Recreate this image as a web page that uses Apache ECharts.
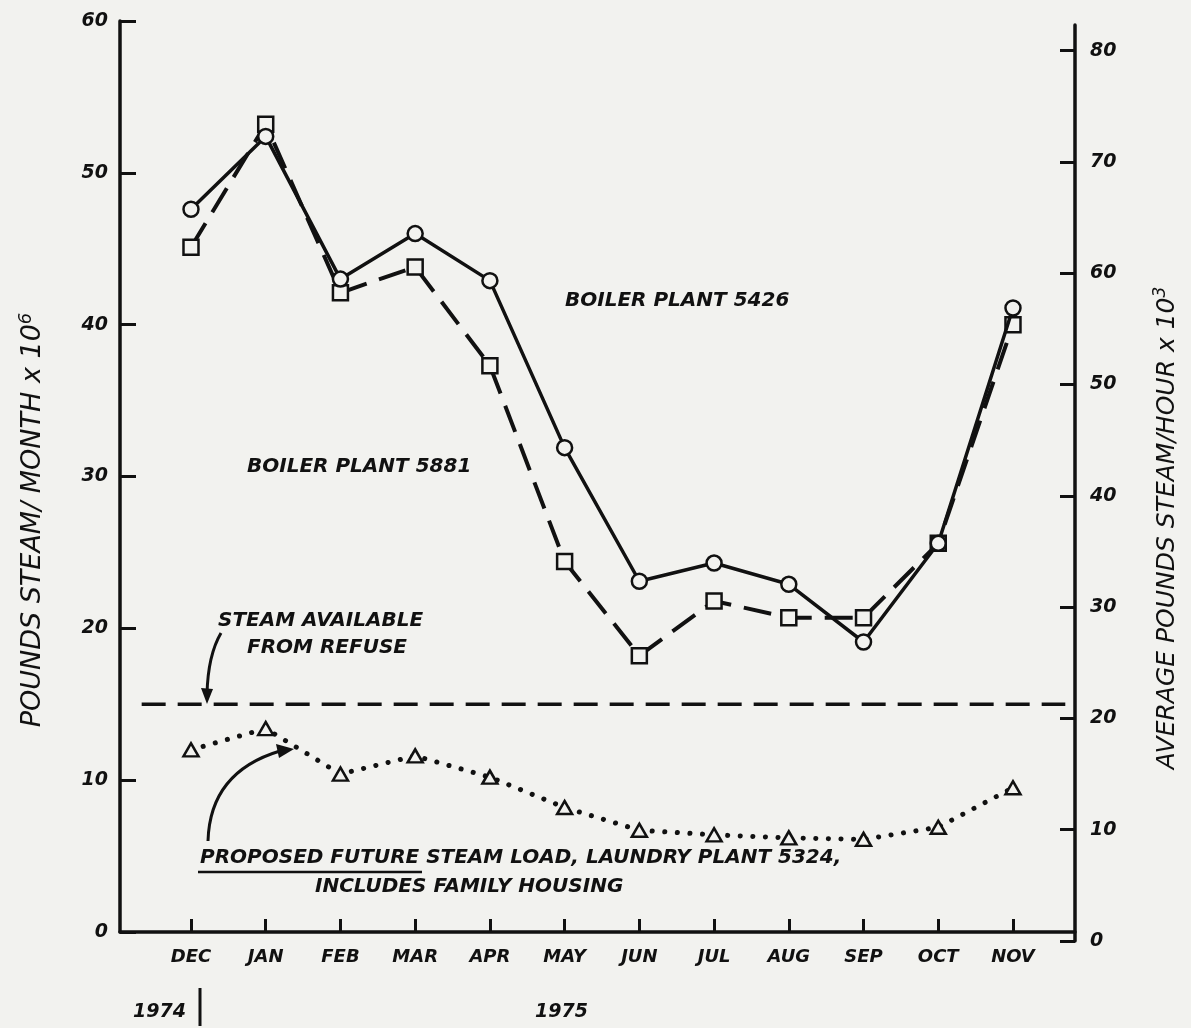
<!DOCTYPE html>
<html>
<head>
<meta charset="utf-8">
<script src="https://cdn.jsdelivr.net/npm/echarts@6/dist/echarts.min.js"></script>
<style>
html,body{margin:0;padding:0;background:#f2f2ef;}
#chart{width:1191px;height:1028px;}
</style>
</head>
<body>
<div id="chart"></div>
<script>
// ---- data ----
var months = ['DEC','JAN','FEB','MAR','APR','MAY','JUN','JUL','AUG','SEP','OCT','NOV'];
var plant5881 = [47.6, 52.4, 43.0, 46.0, 42.9, 31.9, 23.1, 24.3, 22.9, 19.1, 25.6, 41.1];
var plant5426 = [45.1, 53.2, 42.1, 43.8, 37.3, 24.4, 18.2, 21.8, 20.7, 20.7, 25.6, 40.0];
var laundry5324 = [12.0, 13.4, 10.4, 11.6, 10.2, 8.2, 6.7, 6.4, 6.2, 6.1, 6.9, 9.5];
var refuseLevel = 15.0;
var refuseSpan = [-0.66, 11.7];
var leftTicks = [0, 10, 20, 30, 40, 50, 60];
var rightTicks = [0, 10, 20, 30, 40, 50, 60, 70, 80];

var BG = '#f2f2ef';
var INK = '#111';
var FONT = '"DejaVu Sans", sans-serif';

function pairs(arr){ return arr.map(function(v,i){ return [i, v]; }); }

var chart = echarts.init(document.getElementById('chart'));

var lblStyle = {color: INK, fontFamily: FONT, fontWeight: 'bold', fontStyle: 'italic'};
var monthIdx = months.map(function(m,i){return i;});

var option = {
  backgroundColor: BG,
  animation: false,
  grid: [
    {left: 120, right: 116, top: 21, bottom: 96},
    {left: 120, right: 116, top: 25, bottom: 87}
  ],
  xAxis: [{
    gridIndex: 0, type: 'value', min: -0.95, max: 11.83,
    axisLine: {show: true, onZero: false, lineStyle: {color: INK, width: 3.5}},
    axisTick: {show: true, inside: true, length: 13, lineStyle: {color: INK, width: 3}, customValues: monthIdx},
    axisLabel: Object.assign({show: true, fontSize: 18, margin: 16, customValues: monthIdx,
      formatter: function(v){ return months[Math.round(v)] || ''; }}, lblStyle),
    splitLine: {show: false}
  }, {
    gridIndex: 1, type: 'value', min: -0.95, max: 11.83, show: false
  }],
  yAxis: [{
    gridIndex: 0, type: 'value', min: 0, max: 60, position: 'left',
    axisLine: {show: true, onZero: false, lineStyle: {color: INK, width: 3.5}},
    axisTick: {show: true, inside: true, length: 16, lineStyle: {color: INK, width: 3}, customValues: leftTicks},
    axisLabel: Object.assign({fontSize: 19, margin: 12, customValues: leftTicks}, lblStyle),
    splitLine: {show: false}
  }, {
    gridIndex: 1, type: 'value', min: 0, max: 82.3, position: 'right',
    axisLine: {show: true, onZero: false, lineStyle: {color: INK, width: 3.5}},
    axisTick: {show: true, inside: true, length: 15, lineStyle: {color: INK, width: 3}, customValues: rightTicks},
    axisLabel: Object.assign({fontSize: 19, margin: 15, customValues: rightTicks}, lblStyle),
    splitLine: {show: false}
  }],
  series: [
    {
      name: 'Steam available from refuse', type: 'line', xAxisIndex: 0, yAxisIndex: 0,
      data: [[refuseSpan[0], refuseLevel], [refuseSpan[1], refuseLevel]],
      symbol: 'none', lineStyle: {color: INK, width: 3.5, type: [24, 12]}, z: 2
    },
    {
      name: 'Boiler Plant 5426', type: 'line', xAxisIndex: 0, yAxisIndex: 0,
      data: pairs(plant5426), symbol: 'rect', symbolSize: 15,
      itemStyle: {color: BG, borderColor: INK, borderWidth: 2.5},
      lineStyle: {color: INK, width: 4, type: [28, 13]}, z: 3
    },
    {
      name: 'Boiler Plant 5881', type: 'line', xAxisIndex: 0, yAxisIndex: 0,
      data: pairs(plant5881), symbol: 'circle', symbolSize: 15,
      itemStyle: {color: BG, borderColor: INK, borderWidth: 2.5},
      lineStyle: {color: INK, width: 3.5}, z: 4
    },
    {
      name: 'Laundry Plant 5324', type: 'line', xAxisIndex: 0, yAxisIndex: 0,
      data: pairs(laundry5324), symbol: 'triangle', symbolSize: [15, 13],
      itemStyle: {color: BG, borderColor: INK, borderWidth: 2.5},
      lineStyle: {color: INK, width: 5, type: [0.1, 12.5], cap: 'round'}, z: 3
    }
  ],
  graphic: [
    {type: 'text', x: 33, y: 520, rotation: Math.PI/2,
      style: {text: '{a|POUNDS STEAM/ MONTH x 10}{s|6}', align: 'center', verticalAlign: 'middle',
        rich: {a: {fontSize: 27, fontStyle: 'italic', fontFamily: FONT, fill: INK, lineHeight: 32},
               s: {fontSize: 18, fontStyle: 'italic', fontFamily: FONT, fill: INK, verticalAlign: 'top', lineHeight: 18}}}},
    {type: 'text', x: 1167, y: 528, rotation: Math.PI/2,
      style: {text: '{a|AVERAGE POUNDS STEAM/HOUR x 10}{s|3}', align: 'center', verticalAlign: 'middle',
        rich: {a: {fontSize: 25, fontStyle: 'italic', fontFamily: FONT, fill: INK, lineHeight: 30},
               s: {fontSize: 17, fontStyle: 'italic', fontFamily: FONT, fill: INK, verticalAlign: 'top', lineHeight: 17}}}},
    {type: 'text', x: 565, y: 301, style: {text: 'BOILER PLANT 5426', fill: INK, font: 'italic bold 20px ' + FONT, verticalAlign: 'middle'}},
    {type: 'text', x: 247, y: 467, style: {text: 'BOILER PLANT 5881', fill: INK, font: 'italic bold 20px ' + FONT, verticalAlign: 'middle'}},
    {type: 'text', x: 218, y: 621, style: {text: 'STEAM AVAILABLE', fill: INK, font: 'italic bold 20px ' + FONT, verticalAlign: 'middle'}},
    {type: 'text', x: 247, y: 648, style: {text: 'FROM REFUSE', fill: INK, font: 'italic bold 20px ' + FONT, verticalAlign: 'middle'}},
    {type: 'text', x: 200, y: 858, style: {text: 'PROPOSED FUTURE STEAM LOAD, LAUNDRY PLANT 5324,', fill: INK, font: 'italic bold 20px ' + FONT, verticalAlign: 'middle'}},
    {type: 'line', shape: {x1: 198, y1: 872, x2: 422, y2: 872}, style: {stroke: INK, lineWidth: 2.5}},
    {type: 'text', x: 315, y: 887, style: {text: 'INCLUDES FAMILY HOUSING', fill: INK, font: 'italic bold 20px ' + FONT, verticalAlign: 'middle'}},
    {type: 'text', x: 186, y: 1012, style: {text: '1974', fill: INK, font: 'italic bold 19px ' + FONT, align: 'right', verticalAlign: 'middle'}},
    {type: 'line', shape: {x1: 200, y1: 988, x2: 200, y2: 1026}, style: {stroke: INK, lineWidth: 3}},
    {type: 'text', x: 535, y: 1012, style: {text: '1975', fill: INK, font: 'italic bold 19px ' + FONT, verticalAlign: 'middle'}},
    // arrow to refuse line
    {type: 'bezierCurve', shape: {x1: 221, y1: 633, x2: 207, y2: 694, cpx1: 208, cpy1: 655}, style: {stroke: INK, lineWidth: 3, fill: null}},
    {type: 'polygon', shape: {points: [[201, 688], [213, 689], [207, 704]]}, style: {fill: INK}},
    // arrow to laundry curve
    {type: 'bezierCurve', shape: {x1: 208, y1: 841, x2: 280, y2: 751, cpx1: 210, cpy1: 772}, style: {stroke: INK, lineWidth: 3, fill: null}},
    {type: 'polygon', shape: {points: [[276, 744], [279, 758], [294, 749]]}, style: {fill: INK}}
  ]
};
chart.setOption(option);
</script>
</body>
</html>
